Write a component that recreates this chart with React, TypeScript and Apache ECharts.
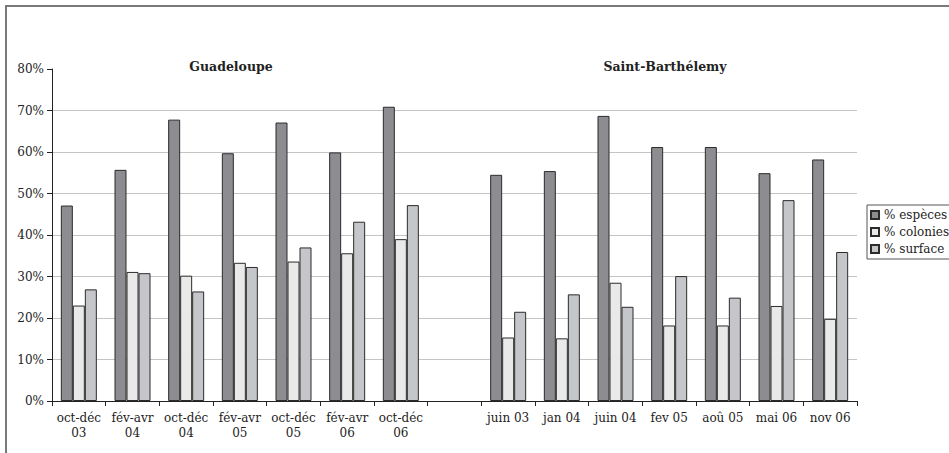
import React, { useEffect, useRef } from "react";
import * as echarts from "echarts";

// Survey periods: Guadeloupe, an empty spacer slot, then Saint-Barthélemy
const categories = [
  "oct-déc\n03", "fév-avr\n04", "oct-déc\n04", "fév-avr\n05", "oct-déc\n05", "fév-avr\n06", "oct-déc\n06",
  "",
  "juin 03", "jan 04", "juin 04", "fev 05", "aoû 05", "mai 06", "nov 06",
];

const especes = [47.1, 55.7, 67.8, 59.7, 67.1, 59.9, 70.9, null, 54.5, 55.4, 68.7, 61.2, 61.2, 54.9, 58.2];
const colonies = [23.0, 31.1, 30.2, 33.3, 33.6, 35.6, 39.0, null, 15.3, 15.1, 28.5, 18.2, 18.2, 22.9, 19.8];
const surface = [26.9, 30.8, 26.4, 32.3, 37.0, 43.2, 47.2, null, 21.5, 25.7, 22.7, 30.1, 24.9, 48.4, 35.9];

const seriesNames = ["% espèces", "% colonies", "% surface"];
const seriesColors = ["#8d8d91", "#e9e9e9", "#c5c6c9"];
const groupTitles = ["Guadeloupe", "Saint-Barthélemy"];

const FONT = "DejaVu Serif";

export default function App() {
  const ref = useRef<HTMLDivElement>(null);

  useEffect(() => {
    if (!ref.current) return;
    const chart = echarts.init(ref.current, undefined, { renderer: "svg" });
    const values = [especes, colonies, surface];

    const titleStyle = { fontFamily: FONT, fontSize: 12.5, fontWeight: "bold", color: "#222" };

    chart.setOption({
      animation: false,
      backgroundColor: "#ffffff",
      textStyle: { fontFamily: FONT, color: "#222" },
      title: [
        { text: groupTitles[0], left: 226, top: 55, textAlign: "center", textStyle: titleStyle },
        { text: groupTitles[1], left: 660, top: 55, textAlign: "center", textStyle: titleStyle },
      ],
      graphic: [
        {
          type: "rect",
          shape: { x: 6, y: 6, width: 980, height: 480 },
          style: { fill: "none", stroke: "#7a7a7a", lineWidth: 2 },
          silent: true,
          z: -1,
        },
      ],
      legend: {
        orient: "vertical",
        left: 867,
        top: 205,
        data: seriesNames,
        itemWidth: 8,
        itemHeight: 8,
        itemGap: 5,
        padding: [4, 12, 4, 3],
        borderColor: "#555",
        borderWidth: 1,
        backgroundColor: "#fff",
        icon: "rect",
        textStyle: { fontFamily: FONT, fontSize: 12, color: "#222" },
      },
      grid: { left: 52, right: 92, top: 69, bottom: 52 },
      xAxis: {
        type: "category",
        data: categories,
        axisLine: { lineStyle: { color: "#222", width: 1 } },
        axisTick: { show: true, length: 5, interval: 0, lineStyle: { color: "#222" } },
        axisLabel: {
          interval: 0,
          fontFamily: FONT,
          fontSize: 12,
          color: "#222",
          lineHeight: 15,
          margin: 9,
        },
      },
      yAxis: {
        type: "value",
        min: 0,
        max: 80,
        interval: 10,
        axisLine: { show: true, lineStyle: { color: "#222", width: 1 } },
        axisTick: { show: true, length: 5, lineStyle: { color: "#222" } },
        axisLabel: {
          formatter: "{value}%",
          fontFamily: FONT,
          fontSize: 12,
          color: "#222",
          margin: 8,
        },
        splitLine: {
          show: true,
          showMinLine: false,
          showMaxLine: false,
          lineStyle: { color: "#c4c4c4", width: 1 },
        },
      },
      series: seriesNames.map((name, i) => ({
        name,
        type: "bar",
        data: values[i],
        barWidth: 12,
        barGap: "0%",
        itemStyle: { color: seriesColors[i], borderColor: "#2b2b2b", borderWidth: 1 },
      })),
    });

    return () => chart.dispose();
  }, []);

  return (
    <div
      ref={ref}
      style={{ position: "fixed", left: 0, top: 0, width: 949, height: 453 }}
    />
  );
}
